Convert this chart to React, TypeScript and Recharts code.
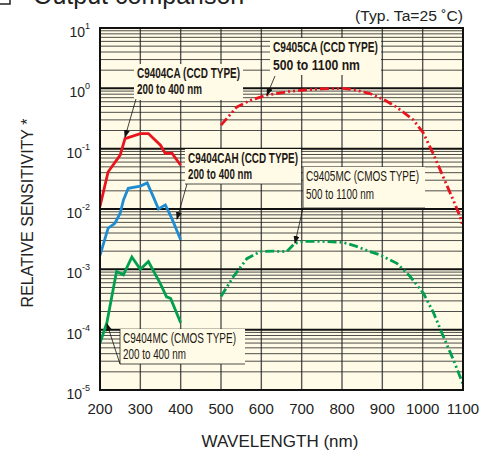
import { LineChart, Line, XAxis, YAxis, CartesianGrid, ReferenceLine } from "recharts";

// wavelength (nm) / relative sensitivity
const wlCA = [200, 220, 250, 262, 300, 320, 350, 362, 378, 400];
const valCA = [0.011, 0.041, 0.078, 0.147, 0.178, 0.178, 0.114, 0.083, 0.085, 0.053];

const wlCAH = [200, 220, 237, 250, 258, 270, 300, 317, 332, 345, 362, 378, 400];
const valCAH = [0.0017, 0.0048, 0.0058, 0.0085, 0.014, 0.022, 0.024, 0.027, 0.016, 0.01, 0.0117, 0.007, 0.0031];

const wlMC = [200, 217, 241, 258, 279, 300, 320, 349, 365, 375, 400];
const valMC = [6e-5, 1.3e-4, 9.2e-4, 8.1e-4, 1.6e-3, 1.0e-3, 1.35e-3, 5.9e-4, 3.5e-4, 3.3e-4, 1.3e-4];

const wl5CA = [500, 539, 572, 613, 671, 700, 750, 803, 836, 869, 902, 935, 977, 1002, 1026, 1051, 1076, 1093, 1100];
const val5CA = [0.245, 0.49, 0.63, 0.77, 0.89, 0.93, 0.98, 1.0, 0.93, 0.82, 0.66, 0.49, 0.3, 0.18, 0.083, 0.034, 0.014, 0.0074, 0.0051];

const wl5MC = [500, 531, 564, 597, 630, 663, 683, 704, 750, 803, 836, 869, 894, 936, 969, 1002, 1027, 1051, 1076, 1100];
const val5MC = [3.55e-4, 7.6e-4, 1.5e-3, 1.97e-3, 2.0e-3, 1.97e-3, 2.7e-3, 2.9e-3, 2.9e-3, 2.8e-3, 2.4e-3, 1.97e-3, 1.74e-3, 1.26e-3, 7.6e-4, 4.0e-4, 1.9e-4, 7.8e-5, 3.2e-5, 1.25e-5];

const xTicks = [200, 300, 400, 500, 600, 700, 800, 900, 1000, 1100];
const yTicks = [1e-5, 1e-4, 1e-3, 1e-2, 1e-1, 1, 10];
const minorSteps = [2, 3, 4, 5, 6, 7, 8, 9];

const toRows = (wl: number[], v: number[]) => wl.map((w, i) => ({ wl: w, v: v[i] }));

const CREAM = "#FFFBE6";
const RED = "#E8141E";
const BLUE = "#1E8CD2";
const GREEN = "#00A04E";
const FONT = "Arial, 'Liberation Sans', sans-serif";
const NARROW = "'Liberation Sans Narrow', Arial, 'Liberation Sans', sans-serif";

const minorLines: number[] = [];
yTicks.slice(0, -1).forEach((d) => minorSteps.forEach((m) => minorLines.push(d * m)));

const YTick = (props: any) => {
  const { x, y, payload } = props;
  const e = Math.round(Math.log10(payload.value));
  return (
    <text x={x - 2} y={y + 9} textAnchor="end" fontSize={14} fill="#222" fontFamily={FONT}>
      <tspan>10</tspan>
      <tspan dy={-8} fontSize={9}>{e}</tspan>
    </text>
  );
};

const XTick = (props: any) => {
  const { x, y, payload } = props;
  return (
    <text x={x} y={y + 16} textAnchor="middle" fontSize={15} fill="#222" fontFamily={FONT}>
      {payload.value}
    </text>
  );
};

const Label = ({ x, y, w, h, l1, l2, w1, w2, bold, gap, underline, leftBorder, lead }: any) => (
  <g>
    <rect x={x} y={y} width={w} height={h} fill={CREAM} />
    <text x={x + 3} y={y + 14} fontSize={14} fontWeight={bold ? 700 : 400} fontFamily={NARROW} fill="#231815" textLength={w1} lengthAdjust="spacingAndGlyphs">
      {l1}
    </text>
    <text x={x + 3} y={y + 14 + gap} fontSize={14} fontWeight={bold ? 700 : 400} fontFamily={NARROW} fill="#231815" textLength={w2} lengthAdjust="spacingAndGlyphs">
      {l2}
    </text>
    {underline && <line x1={x} y1={y + h} x2={x + w} y2={y + h} stroke="#222" strokeWidth={0.8} />}
    {leftBorder && <line x1={x} y1={y} x2={x} y2={y + h} stroke="#222" strokeWidth={0.8} />}
    <line x1={lead[0]} y1={lead[1]} x2={lead[2]} y2={lead[3]} stroke="#111" strokeWidth={0.8} markerEnd="url(#arr)" />
  </g>
);

export default function App() {
  return (
    <div style={{ position: "absolute", left: 0, top: 0, width: 485, height: 459, background: "#fff", overflow: "hidden" }}>
      <LineChart width={485} height={459} margin={{ top: 28, right: 22, bottom: 39, left: 0 }}>
        <CartesianGrid fill={CREAM} horizontal={false} stroke="#555" strokeWidth={1.4} />
        {minorLines.map((v) => (
          <ReferenceLine key={"m" + v} y={v} stroke="#222" strokeWidth={0.8} />
        ))}
        {yTicks.map((v) => (
          <ReferenceLine key={"d" + v} y={v} stroke="#111" strokeWidth={2} />
        ))}
        <XAxis type="number" dataKey="wl" domain={[200, 1100]} ticks={xTicks} height={30} tickLine={false} axisLine={false} tick={<XTick />} allowDataOverflow />
        <YAxis type="number" scale="log" domain={[1e-5, 10]} ticks={yTicks} width={100} tickLine={false} axisLine={false} tick={<YTick />} allowDataOverflow />
        <Line data={toRows(wlCA, valCA)} dataKey="v" stroke={RED} strokeWidth={2.8} dot={false} isAnimationActive={false} />
        <Line data={toRows(wlCAH, valCAH)} dataKey="v" stroke={BLUE} strokeWidth={2.8} dot={false} isAnimationActive={false} />
        <Line data={toRows(wlMC, valMC)} dataKey="v" stroke={GREEN} strokeWidth={2.8} dot={false} isAnimationActive={false} />
        <Line data={toRows(wl5CA, val5CA)} dataKey="v" stroke={RED} strokeWidth={2.8} strokeDasharray="9 3 2 3 2 3" dot={false} isAnimationActive={false} />
        <Line data={toRows(wl5MC, val5MC)} dataKey="v" stroke={GREEN} strokeWidth={2.8} strokeDasharray="9 3 2 3 2 3" dot={false} isAnimationActive={false} />
      </LineChart>
      <svg width={485} height={459} style={{ position: "absolute", left: 0, top: 0, pointerEvents: "none" }}>
        <defs>
          <marker id="arr" markerWidth="8" markerHeight="6" refX="7" refY="3" orient="auto" markerUnits="userSpaceOnUse">
            <path d="M0,0 L8,3 L0,6 z" fill="#111" />
          </marker>
        </defs>
        <rect x={100} y={28} width={363} height={362} fill="none" stroke="#111" strokeWidth={2} />
        <rect x={-3} y={-12} width={13} height={16} fill="none" stroke="#222" strokeWidth={1.5} />
        <text x={33} y={4} fontSize={25} fontFamily={FONT} fill="#222">Output comparison</text>
        <text x={463} y={21} fontSize={14} fontFamily={FONT} fill="#222" textAnchor="end" textLength={108} lengthAdjust="spacingAndGlyphs">
          (Typ. Ta=25 ˚C)
        </text>
        <text transform="translate(33,213) rotate(-90)" textAnchor="middle" fontSize={16} fontFamily={FONT} fill="#222">
          RELATIVE SENSITIVITY *
        </text>
        <text x={280} y={447} textAnchor="middle" fontSize={17} fontFamily={FONT} fill="#222">
          WAVELENGTH (nm)
        </text>
        <Label x={134} y={64} w={109} h={36} gap={16} l1="C9404CA (CCD TYPE)" l2="200 to 400 nm" w1={103} w2={65} bold lead={[136, 99, 125, 137]} />
        <Label x={270} y={38} w={111} h={37} gap={18} l1="C9405CA (CCD TYPE)" l2="500 to 1100 nm" w1={105} w2={87} bold lead={[275, 76, 267, 95]} />
        <Label x={185} y={149} w={116} h={35} gap={16} l1="C9404CAH (CCD TYPE)" l2="200 to 400 nm" w1={110} w2={64} bold underline lead={[187, 184, 177, 219]} />
        <Label x={303} y={167} w={122} h={41} gap={18} l1="C9405MC (CMOS TYPE)" l2="500 to 1100 nm" w1={113} w2={68} underline leftBorder lead={[303, 208, 295, 243]} />
        <Label x={120} y={329} w={125} h={35} gap={16} l1="C9404MC (CMOS TYPE)" l2="200 to 400 nm" w1={113} w2={63} underline leftBorder lead={[120, 364, 107, 324]} />
      </svg>
    </div>
  );
}
